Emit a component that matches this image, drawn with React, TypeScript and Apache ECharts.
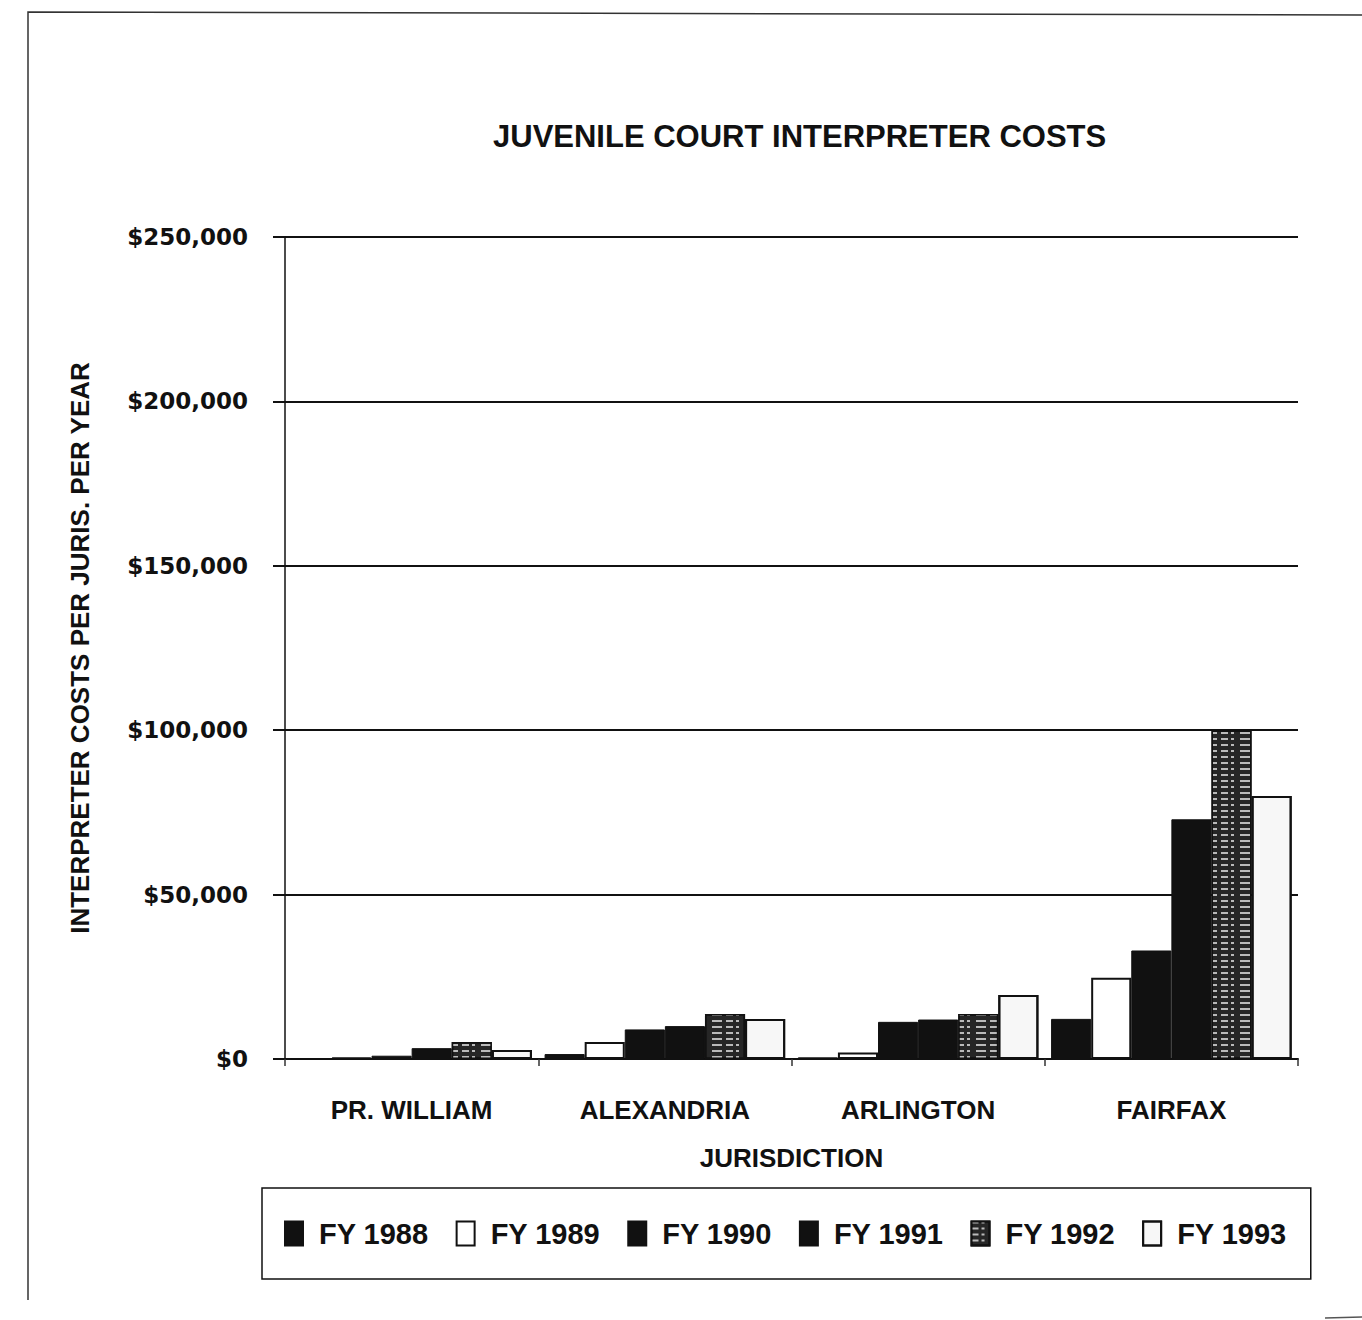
import React, { useEffect, useRef } from "react";
import * as echarts from "echarts";

// Jurisdictions along the category axis
const jurisdictions = ["PR. WILLIAM", "ALEXANDRIA", "ARLINGTON", "FAIRFAX"];

// Annual interpreter costs (dollars) per jurisdiction
const fy1988 = [200, 1500, 500, 12200];
const fy1989 = [400, 5200, 2000, 24700];
const fy1990 = [1000, 9000, 11300, 33000];
const fy1991 = [3300, 10000, 12000, 72900];
const fy1992 = [5200, 13700, 13700, 100000];
const fy1993 = [2700, 12200, 19500, 80000];

const seriesNames = ["FY 1988", "FY 1989", "FY 1990", "FY 1991", "FY 1992", "FY 1993"];
const seriesValues = [fy1988, fy1989, fy1990, fy1991, fy1992, fy1993];

// Y-axis range
const yMin = 0;
const yMax = 250000;
const yStep = 50000;

const LABEL_FONT = "'Liberation Sans', Arial, sans-serif";
const NUM_FONT = "'DejaVu Sans', sans-serif";

const solidBlack = { color: "#111", borderColor: "#111", borderWidth: 1 };
const hollow = { color: "#fff", borderColor: "#111", borderWidth: 2 };
const textured = {
  color: "#262626",
  borderColor: "#111",
  borderWidth: 1.5,
  decal: {
    symbol: "rect",
    symbolSize: 1,
    color: "rgba(235,235,235,0.75)",
    dashArrayX: [[7, 3, 3, 6, 10, 4]],
    dashArrayY: [2, 4],
    rotation: 0,
  },
};
const dotted = {
  color: "#f7f7f7",
  borderColor: "#111",
  borderWidth: 2,
  decal: {
    symbol: "circle",
    symbolSize: 0.5,
    color: "#777",
    dashArrayX: [[2, 9]],
    dashArrayY: [2, 11],
    rotation: 0,
  },
};
const styles = [solidBlack, hollow, solidBlack, solidBlack, textured, dotted];

function money(v: number): string {
  return "$" + v.toLocaleString("en-US");
}

export default function App() {
  const ref = useRef<HTMLDivElement>(null);

  useEffect(() => {
    if (!ref.current) return;
    const chart = echarts.init(ref.current, undefined, { renderer: "svg" });

    chart.setOption({
      animation: false,
      backgroundColor: "#fff",
      title: {
        text: "JUVENILE COURT INTERPRETER COSTS",
        left: 488,
        top: 116,
        textStyle: {
          fontFamily: LABEL_FONT,
          fontWeight: "bold",
          fontSize: 31,
          color: "#111",
        },
      },
      graphic: [
        {
          type: "polyline",
          shape: { points: [[28, 1300], [28, 12], [1362, 15]] },
          style: { stroke: "#333", lineWidth: 1.5, fill: null },
          silent: true,
        },
        {
          type: "line",
          shape: { x1: 1325, y1: 1318, x2: 1362, y2: 1317 },
          style: { stroke: "#555", lineWidth: 1.5 },
          silent: true,
        },
      ],
      legend: {
        data: seriesNames.map((name) => ({ name, icon: "rect" })),
        left: 262,
        top: 1188,
        orient: "horizontal",
        padding: [31, 24, 31, 22],
        borderColor: "#111",
        borderWidth: 1.5,
        itemWidth: 18,
        itemHeight: 24,
        itemGap: 27,
        textStyle: {
          fontFamily: LABEL_FONT,
          fontWeight: "bold",
          fontSize: 29,
          color: "#111",
          padding: [0, 0, 0, 11],
        },
      },
      grid: {
        left: 285,
        right: 64,
        top: 237,
        bottom: 261,
        containLabel: false,
      },
      xAxis: {
        type: "category",
        data: jurisdictions,
        name: "JURISDICTION",
        nameLocation: "middle",
        nameGap: 86,
        nameTextStyle: {
          fontFamily: LABEL_FONT,
          fontWeight: "bold",
          fontSize: 26,
          color: "#111",
        },
        axisLine: { show: true, lineStyle: { color: "#111", width: 2 } },
        axisTick: {
          show: true,
          alignWithLabel: false,
          length: 7,
          lineStyle: { color: "#333", width: 1.5 },
        },
        axisLabel: {
          margin: 38,
          fontFamily: LABEL_FONT,
          fontWeight: "bold",
          fontSize: 26,
          color: "#111",
        },
      },
      yAxis: {
        type: "value",
        min: yMin,
        max: yMax,
        interval: yStep,
        name: "INTERPRETER COSTS PER JURIS. PER YEAR",
        nameLocation: "middle",
        nameGap: 192,
        nameTextStyle: {
          fontFamily: LABEL_FONT,
          fontWeight: "bold",
          fontSize: 26,
          color: "#111",
        },
        axisLine: { show: true, lineStyle: { color: "#111", width: 1.5 } },
        axisTick: { show: true, length: 12, lineStyle: { color: "#111", width: 2 } },
        splitLine: { show: true, lineStyle: { color: "#111", width: 2 } },
        axisLabel: {
          margin: 37,
          fontFamily: NUM_FONT,
          fontWeight: "bold",
          fontSize: 23,
          color: "#111",
          formatter: (v: number) => money(v),
        },
      },
      series: seriesNames.map((name, i) => ({
        name,
        type: "bar",
        data: seriesValues[i],
        barGap: "0%",
        barCategoryGap: "5%",
        itemStyle: styles[i],
      })),
    });

    return () => chart.dispose();
  }, []);

  return (
    <div
      ref={ref}
      style={{ position: "absolute", left: 0, top: 0, width: 1362, height: 1320 }}
    />
  );
}
